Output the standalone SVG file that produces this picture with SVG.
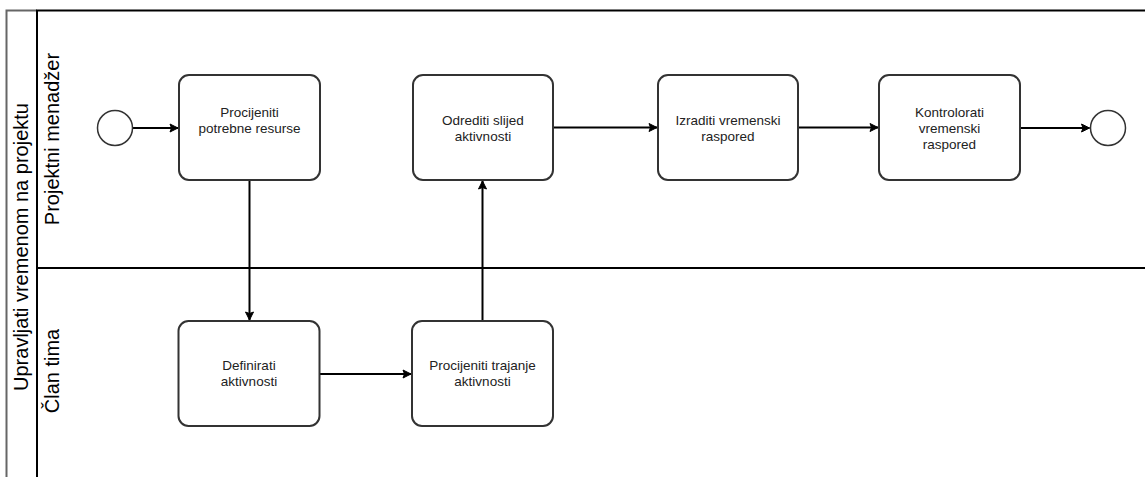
<svg xmlns="http://www.w3.org/2000/svg" width="1145" height="477" viewBox="0 0 1145 477">
<defs>
<style>
.lane{fill:none;stroke:#000;stroke-width:2}
.pool{fill:none;stroke:#666;stroke-width:2}
.task{fill:#fff;stroke:#333;stroke-width:2}
.ev{fill:#fff;stroke:#333;stroke-width:1.5}
.lbl{font-family:"Liberation Sans",Arial,sans-serif;font-size:13.5px;fill:#222;text-anchor:middle}
.ttl{font-family:"Liberation Sans",Arial,sans-serif;font-size:20px;fill:#000;text-anchor:middle}
.edge{fill:none;stroke:#000;stroke-width:2}
</style>
<marker id="arr" markerWidth="10" markerHeight="10" refX="9" refY="5" orient="auto" markerUnits="userSpaceOnUse">
<path d="M1,1 L9,5 L1,9 L2.5,5 Z" fill="#000" stroke="#000" stroke-width="1"/>
</marker>
</defs>
<g id="pool">
<path class="pool" d="M6.5,477 V10.5 H37"/>
<path class="lane" d="M37,477 V10.5 H1145"/>
<text class="ttl" transform="translate(28,247) rotate(-90)">Upravljati vremenom na projektu</text>
</g>
<g id="lane1">
<text class="ttl" transform="translate(59,139) rotate(-90)">Projektni menadžer</text>
</g>
<g id="lane2">
<line class="lane" x1="37" y1="268" x2="1145" y2="268"/>
<text class="ttl" transform="translate(59,371) rotate(-90)">Član tima</text>
</g>
<g id="connectors">
<path class="edge" d="M133,128 H178" marker-end="url(#arr)"/>
<path class="edge" d="M249.5,180 V320" marker-end="url(#arr)"/>
<path class="edge" d="M319,374 H411" marker-end="url(#arr)"/>
<path class="edge" d="M482.5,321 V181" marker-end="url(#arr)"/>
<path class="edge" d="M553,127.5 H657" marker-end="url(#arr)"/>
<path class="edge" d="M798,127.5 H878" marker-end="url(#arr)"/>
<path class="edge" d="M1020,128 H1089.5" marker-end="url(#arr)"/>
</g>
<g id="start">
<circle class="ev" cx="115" cy="128" r="17.5"/>
</g>
<g id="t1">
<rect class="task" x="179" y="75" width="141" height="105" rx="10"/>
<text class="lbl" x="249.5" y="117">Procijeniti</text>
<text class="lbl" x="249.5" y="133">potrebne resurse</text>
</g>
<g id="t2">
<rect class="task" x="413" y="75" width="140" height="105" rx="10"/>
<text class="lbl" x="483" y="125">Odrediti slijed</text>
<text class="lbl" x="483" y="141">aktivnosti</text>
</g>
<g id="t3">
<rect class="task" x="658" y="75" width="140" height="105" rx="10"/>
<text class="lbl" x="728" y="125">Izraditi vremenski</text>
<text class="lbl" x="728" y="141">raspored</text>
</g>
<g id="t4">
<rect class="task" x="879" y="75" width="141" height="105" rx="10"/>
<text class="lbl" x="949.5" y="117">Kontrolorati</text>
<text class="lbl" x="949.5" y="133">vremenski</text>
<text class="lbl" x="949.5" y="149">raspored</text>
</g>
<g id="end">
<circle class="ev" cx="1108" cy="128" r="17.5"/>
</g>
<g id="t5">
<rect class="task" x="178.5" y="321" width="141" height="105" rx="10"/>
<text class="lbl" x="249" y="370">Definirati</text>
<text class="lbl" x="249" y="386">aktivnosti</text>
</g>
<g id="t6">
<rect class="task" x="412" y="321" width="141" height="105" rx="10"/>
<text class="lbl" x="482.5" y="370">Procijeniti trajanje</text>
<text class="lbl" x="482.5" y="386">aktivnosti</text>
</g>
</svg>
